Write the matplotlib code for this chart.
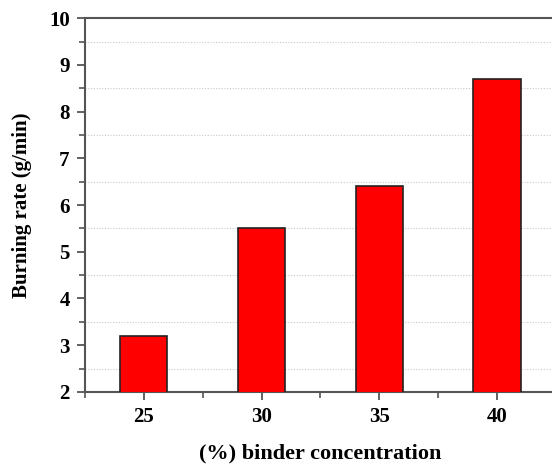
import matplotlib.pyplot as plt
from matplotlib.ticker import MultipleLocator

concentration = [25, 30, 35, 40]
burning_rate = [3.2, 5.5, 6.4, 8.7]

plt.rcParams['font.family'] = 'Liberation Serif'
plt.rcParams['font.weight'] = 'bold'

fig = plt.figure(figsize=(5.52, 4.66), dpi=100)
ax = fig.add_axes([0.154, 0.159, 0.853, 0.802])

ax.bar(concentration, burning_rate, width=2.0, color='#ff0000',
       edgecolor='#222222', linewidth=1.2, zorder=3)

ax.set_xlim(22.5, 42.5)
ax.set_ylim(2, 10)
ax.set_xticks(concentration)
ax.xaxis.set_minor_locator(MultipleLocator(2.5))
ax.yaxis.set_major_locator(MultipleLocator(1))
ax.yaxis.set_minor_locator(MultipleLocator(0.5))

ax.grid(which='minor', axis='y', linestyle=(0, (1, 1.5)), color='#c8c8c8',
        linewidth=0.8, zorder=0)
ax.grid(which='major', visible=False)

for s in ax.spines.values():
    s.set_color('#555555')
    s.set_linewidth(1.5)

ax.tick_params(which='major', direction='out', length=6, width=1.3,
               color='#555555', labelsize=15, pad=5)
ax.tick_params(which='minor', direction='out', length=4, width=1.2,
               color='#555555')

ax.set_xlabel('(%) binder concentration', fontsize=16, fontweight='bold', labelpad=12)
ax.set_ylabel('Burning rate (g/min)', fontsize=15, fontweight='bold', labelpad=12)

fig.savefig('out.png', dpi=100)
